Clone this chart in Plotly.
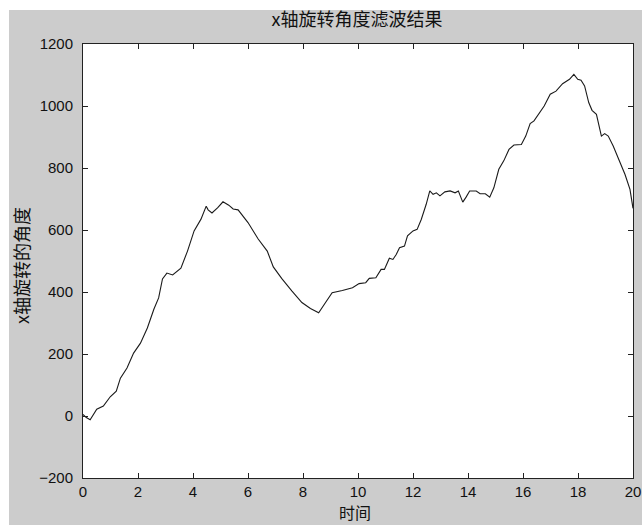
import plotly.graph_objects as go

time_s = [0, 0.12, 0.26, 0.5, 0.74, 0.99, 1.21, 1.36, 1.6, 1.84, 2.09, 2.34, 2.58, 2.75, 2.89,
          3.05, 3.26, 3.56, 3.8, 4.04, 4.29, 4.48, 4.55, 4.69, 4.9, 5.09, 5.3, 5.46, 5.64, 6.0,
          6.37, 6.7, 6.92, 7.23, 7.6, 7.96, 8.27, 8.57, 8.82, 9.06, 9.43, 9.8, 10.04, 10.28, 10.41,
          10.65, 10.84, 10.96, 11.04, 11.14, 11.27, 11.39, 11.51, 11.69, 11.8, 12.0, 12.15, 12.3,
          12.48, 12.61, 12.73, 12.85, 12.98, 13.16, 13.35, 13.53, 13.65, 13.81, 13.93, 14.06,
          14.3, 14.44, 14.63, 14.79, 14.94, 15.12, 15.3, 15.49, 15.67, 15.94, 16.1, 16.26, 16.4,
          16.59, 16.77, 16.99, 17.2, 17.44, 17.69, 17.85, 17.99, 18.11, 18.24, 18.39, 18.51,
          18.67, 18.75, 18.85, 18.97, 19.1, 19.28, 19.46, 19.71, 19.89, 20.0]
angle = [5, -5, -12, 22, 32, 62, 80, 122, 155, 203, 235, 284, 345, 381, 442,
         461, 455, 477, 532, 597, 635, 677, 665, 655, 672, 691, 680, 668, 665, 624,
         571, 532, 481, 443, 403, 366, 347, 333, 366, 398, 405, 414, 427, 430, 444,
         446, 473, 473, 489, 509, 505, 521, 543, 548, 581, 597, 602, 634,
         683, 726, 715, 720, 710, 723, 726, 720, 726, 690, 706, 726,
         726, 717, 717, 706, 736, 796, 823, 860, 874, 876, 903, 943, 952,
         978, 1000, 1038, 1048, 1072, 1086, 1102, 1086, 1083, 1065, 1011, 986,
         973, 946, 903, 911, 903, 871, 833, 779, 731, 670]

x_ticks = [0, 2, 4, 6, 8, 10, 12, 14, 16, 18, 20]
y_ticks = [-200, 0, 200, 400, 600, 800, 1000, 1200]

GRAY = "#cccccc"
AX = "#222222"
tickfont = dict(family="Liberation Sans, Arial", size=15, color="#111111")
cjk = "Noto Sans CJK SC"

L, R, T, B = 83, 9, 44, 47
W, H = 642, 525
pw = W - L - R
ph = H - T - B


def px_x(p):
    return (p - L) / pw


def px_y(p):
    return (H - B - p) / ph


fig = go.Figure()
fig.add_trace(go.Scatter(x=time_s, y=angle, mode="lines",
                         line=dict(color="#1a1a1a", width=1.1), showlegend=False))

fig.update_layout(
    width=W, height=H,
    margin=dict(l=L, r=R, t=T, b=B, autoexpand=False),
    paper_bgcolor=GRAY, plot_bgcolor="white",
    title=dict(text="x轴旋转角度滤波结果", x=357 / W, xanchor="center",
               y=1 - 20 / H, yanchor="middle",
               font=dict(family=cjk, size=18, color="#111111")),
    xaxis=dict(range=[0, 20], tickvals=x_ticks, ticks="inside", ticklen=5,
               tickcolor=AX, showline=True, linecolor=AX, linewidth=1, mirror="ticks",
               showgrid=False, zeroline=False, tickfont=tickfont, automargin=False,
               ticklabeloverflow="allow", ticklabelstandoff=0),
    yaxis=dict(range=[-200, 1200], tickvals=y_ticks, ticks="inside", ticklen=5,
               tickcolor=AX, showline=True, linecolor=AX, linewidth=1, mirror="ticks",
               showgrid=False, zeroline=False, tickfont=tickfont, automargin=False,
               ticklabelstandoff=6, ticklabeloverflow="allow"),
)

fig.add_annotation(text="时间", xref="paper", yref="paper", x=px_x(355), y=px_y(512),
                   xanchor="center", yanchor="middle", showarrow=False,
                   font=dict(family=cjk, size=16, color="#111111"))
fig.add_annotation(text="x轴旋转的角度", xref="paper", yref="paper", x=px_x(21), y=px_y(266),
                   xanchor="center", yanchor="middle", showarrow=False, textangle=-90,
                   font=dict(family=cjk, size=18, color="#111111"))

# white strips at the top and left edge of the picture
fig.add_shape(type="rect", xref="paper", yref="paper", x0=px_x(-5), x1=px_x(W + 5),
              y0=px_y(10), y1=px_y(-5), fillcolor="white", line_width=0, layer="above")
fig.add_shape(type="rect", xref="paper", yref="paper", x0=px_x(-5), x1=px_x(9),
              y0=px_y(H + 5), y1=px_y(-5), fillcolor="white", line_width=0, layer="above")

fig.write_html("out.html")
